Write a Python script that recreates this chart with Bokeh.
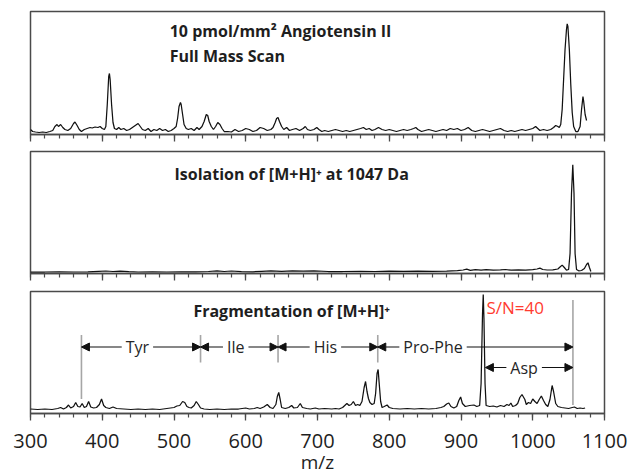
from bokeh.plotting import figure
from bokeh.layouts import column
from bokeh.models import (Range1d, SingleIntervalTicker, Label, Arrow, NormalHead,
                          ColumnDataSource, CustomLabelingPolicy)
from bokeh.embed import file_html
from bokeh.resources import INLINE

# ---------------- data ----------------
# Panel 1: full mass scan (intensity, arbitrary units)
full_mz = [300, 303, 307, 312, 317, 322, 327, 331, 334, 337, 339, 342, 345, 348, 352, 356, 360, 362, 365, 368,
           371, 375, 379, 383, 386, 390, 394, 397, 400, 403, 405, 407, 409, 410, 411, 413, 415, 417, 420, 423,
           426, 430, 434, 438, 442, 446, 450, 453, 456, 460, 464, 468, 472, 476, 480, 484, 488, 492, 496, 500,
           503, 505, 507, 509, 510, 512, 514, 517, 520, 524, 528, 532, 535, 539, 542, 545, 547, 549, 552, 555,
           558, 561, 564, 567, 570, 575, 580, 585, 590, 595, 600, 605, 610, 615, 620, 625, 630, 635, 638, 641,
           643, 645, 647, 650, 653, 657, 661, 665, 670, 675, 680, 683, 686, 690, 695, 699, 702, 706, 710, 715,
           720, 725, 730, 735, 740, 745, 750, 755, 760, 764, 768, 772, 776, 780, 785, 790, 795, 800, 805, 810,
           815, 820, 825, 830, 834, 837, 840, 845, 850, 855, 860, 865, 870, 875, 880, 885, 890, 895, 900, 905,
           910, 915, 920, 925, 930, 935, 940, 945, 950, 955, 960, 965, 970, 975, 980, 985, 990, 995, 1000, 1004,
           1007, 1010, 1015, 1020, 1025, 1029, 1032, 1035, 1037, 1039, 1041, 1043, 1045, 1047, 1048, 1049, 1051,
           1053, 1055, 1057, 1060, 1063, 1066, 1068, 1070, 1071, 1073, 1075]
full_int = [5, 3, 2.5, 2, 2.5, 2, 3, 4, 8, 10, 8, 10, 7, 5, 4, 6, 11, 12.5, 9, 5,
            3, 5, 6, 7, 6.5, 7.5, 7, 8, 6, 5, 8, 30, 58, 61, 55, 30, 12, 6, 5, 7,
            5, 6, 4, 5, 7, 9, 11, 8, 5, 4, 6, 3, 5, 4, 6, 4, 5, 3, 4, 6,
            8, 16, 28, 32, 30, 20, 10, 6, 5, 6, 4, 7, 5, 8, 13, 20, 19, 13, 8, 5,
            8, 12, 10, 6, 3, 3, 2.5, 5, 3, 4, 6, 5, 3, 4, 7, 6, 4, 5, 7, 12,
            16, 17, 13, 8, 5, 7, 4, 5, 6, 4, 6, 8, 5, 4, 5, 7, 5, 3, 4, 3,
            4, 5, 4, 3, 4, 3, 4, 5, 6, 7, 5, 6, 4, 5, 7, 5, 4, 5, 4, 3,
            4, 5, 4, 5, 6, 7, 5, 3, 4, 5, 4, 3, 4, 5, 4, 6, 5, 6, 4, 5,
            7, 4, 3, 4, 5, 4, 3, 4, 5, 6, 4, 3, 4, 3, 4, 5, 4, 5, 6, 8,
            6, 4, 5, 4, 5, 7, 9, 8, 7, 10, 25, 55, 85, 105, 110.7, 108, 85,
            50, 22, 8, 3, 3, 8, 25, 38, 33, 20, 14]

# Panel 2: isolation of [M+H]+
iso_mz = [300, 320, 340, 360, 380, 395, 405, 415, 425, 437, 450, 470, 490, 510, 530, 548, 560, 570, 580, 594,
          610, 622, 635, 650, 665, 680, 695, 715, 735, 760, 780, 800, 820, 840, 860, 880, 895, 903, 908, 913,
          920, 928, 935, 945, 955, 962, 970, 980, 990, 1000, 1006, 1010, 1014, 1020, 1028, 1035, 1038, 1041,
          1044, 1047, 1050, 1052, 1054, 1055.8, 1057.5, 1059, 1061, 1064, 1068, 1072, 1075, 1077, 1079, 1081]
iso_int = [1.5, 1.5, 1.6, 1.5, 1.7, 2.2, 2.5, 2.0, 2.4, 1.8, 1.5, 1.6, 1.5, 1.7, 1.6, 2.0, 2.6, 2.0, 2.5, 1.8,
           1.7, 2.2, 2.6, 2.2, 2.7, 2.3, 2.6, 2.0, 2.0, 2.2, 2.0, 2.3, 2.1, 2.4, 2.2, 2.4, 2.8, 3.5, 4.4, 3.2,
           3.8, 3.4, 3.9, 3.3, 3.6, 4.0, 3.3, 3.6, 3.4, 3.8, 4.5, 5.4, 4.0, 3.5, 3.6, 4.5, 6.5, 8.4,
           6, 3.4, 4, 20, 80, 108.7, 80, 20, 4, 2.7, 3, 5, 9, 10.7, 6, 2]

# Panel 3: fragmentation of [M+H]+
frag_mz = [300, 310, 320, 330, 338, 342, 346, 350, 353, 356, 360, 363, 366, 369, 372, 375, 378, 381, 384, 388,
           392, 396, 399, 402, 405, 410, 415, 420, 430, 440, 450, 460, 470, 480, 490, 495, 500, 504, 508, 512,
           515, 518, 521, 524, 528, 531, 534, 537, 542, 550, 560, 570, 580, 590, 600, 605, 612, 616, 620, 625,
           630, 634, 638, 642, 644, 646, 648, 650, 655, 660, 664, 667, 672, 676, 679, 685, 690, 697, 702, 710,
           720, 725, 730, 735, 738, 741, 744, 747, 750, 753, 756, 759, 762, 765, 767, 769, 771, 773, 776, 779,
           781, 783, 784.5, 786, 788, 790, 793, 797, 800, 805, 815, 825, 835, 845, 855, 865, 872, 876, 880, 883,
           886, 890, 894, 897, 899.5, 902, 906, 912, 918, 922, 926, 928, 930, 931, 932, 933.5, 935, 940, 945, 950,
           955, 960, 964, 967, 969.5, 972, 976, 979, 982, 985, 987, 989, 991, 994, 997, 1000, 1003, 1006, 1009,
           1012, 1015, 1018, 1021, 1024, 1027, 1029, 1032, 1035, 1040, 1045, 1050, 1055, 1058, 1062, 1066,
           1070, 1073]
frag_int = [4.5, 4, 4.5, 4, 5, 6, 4.5, 6, 8.5, 5.5, 7, 11, 7, 6.5, 10, 6, 7, 12, 6.5, 5.5,
            6, 9, 14.5, 8, 6, 5, 6.5, 5, 4.5, 4, 4.5, 4, 4.5, 4, 5, 5.5, 6, 7.5, 8, 12,
            11, 7, 6, 5.5, 8, 12, 9, 5.5, 4.5, 4, 4.5, 4, 4.5, 4.5, 5.5, 4.5, 5, 6, 5, 6.5,
            9, 6, 5, 9, 17, 21, 14, 6, 5, 6, 8, 5.5, 6, 10, 6, 5, 4.5, 5.5, 4.5, 5,
            4.5, 5, 4.5, 6, 8, 10, 8, 9, 12, 8, 9, 8, 12, 26, 32, 22, 15, 11, 9, 10,
            20, 40, 44, 30, 12, 6, 7, 8.5, 6, 5, 4.5, 5, 4.5, 5, 4.5, 5, 6, 7, 9.5, 10.5,
            7, 5.5, 7, 13, 16.5, 10, 7, 8, 8.5, 7, 8, 30, 100, 119, 95, 30, 8, 7, 7.5, 6.5,
            8, 7, 9, 8, 10.5, 7, 8, 10, 16, 19, 16.5, 14, 9, 11, 10, 14.5, 12, 10, 14,
            17.5, 13, 9, 7, 14, 28, 22, 10, 7, 6, 5.5, 5, 6, 6.5, 5, 5.5,
            5, 5.5]

# Residue assignments (m/z boundaries) for the fragment ladder
res_labels = ["Tyr", "Ile", "His", "Pro-Phe", "Asp"]
res_start = [371, 537, 645, 784, 934]
res_end = [537, 645, 784, 1056, 1056]
res_label_mz = [449, 586, 711, 861, 988]
boundary_mz = [371, 537, 645, 784, 1056]

tick_interval = 100
x_min, x_max = 300, 1100

# ---------------- styles ----------------
FONT = "Open Sans"
FRAME_COLOR = "#4a4a4a"
LINE_COLOR = "#111111"
TEXT_COLOR = "#1e1e1e"

hide_labels = CustomLabelingPolicy(code="for (const i of indices) indices.unset(i)")


def make_panel(mz, inten, ymax, frame_h, b_top, b_bottom, show_labels):
    p = figure(frame_width=574, frame_height=frame_h,
               x_range=Range1d(x_min, x_max), y_range=Range1d(0, ymax),
               output_backend="svg", toolbar_location=None, y_axis_location=None,
               min_border_left=30, min_border_right=25,
               min_border_top=b_top, min_border_bottom=b_bottom)
    p.grid.visible = False
    p.background_fill_color = "white"
    p.border_fill_color = "white"
    p.outline_line_color = FRAME_COLOR
    p.outline_line_width = 1.5
    p.line(mz, inten, line_color=LINE_COLOR, line_width=1.25)
    ax = p.xaxis[0]
    ax.ticker = SingleIntervalTicker(interval=tick_interval, num_minor_ticks=5)
    ax.axis_line_color = FRAME_COLOR
    ax.axis_line_width = 1.5
    ax.major_tick_line_color = FRAME_COLOR
    ax.minor_tick_line_color = FRAME_COLOR
    ax.major_tick_line_width = 1.3
    ax.minor_tick_line_width = 1.2
    ax.major_tick_out = 7
    ax.major_tick_in = 0
    ax.minor_tick_out = 4
    ax.minor_tick_in = 0
    if show_labels:
        ax.major_label_text_font = FONT
        ax.major_label_text_font_size = "20px"
        ax.major_label_text_color = TEXT_COLOR
        ax.major_label_standoff = 13
        ax.axis_label = "m/z"
        ax.axis_label_text_font = FONT
        ax.axis_label_text_font_size = "19px"
        ax.axis_label_text_font_style = "normal"
        ax.axis_label_text_color = TEXT_COLOR
        ax.axis_label_standoff = -2
    else:
        ax.major_label_text_font_size = "0px"
        ax.major_label_standoff = 0
        ax.major_label_policy = hide_labels
    return p


def text(p, s, x, y, color=TEXT_COLOR, bold=True, size="16px", align="left"):
    p.add_layout(Label(x=x, y=y, text=s, text_font=FONT, text_font_size=size,
                       text_font_style="bold" if bold else "normal", text_color=color,
                       text_align=align, text_baseline="middle"))


p1 = make_panel(full_mz, full_int, 123, 123, 11, 16, False)
text(p1, "10 pmol/mm² Angiotensin II", 494, 104)
text(p1, "Full Mass Scan", 494, 79)

p2 = make_panel(iso_mz, iso_int, 122, 122, 1, 17, False)
text(p2, "Isolation of [M+H]⁺ at 1047 Da", 664, 100, align="center")

p3 = make_panel(frag_mz, frag_int, 122, 122, 1, 62, True)
text(p3, "Fragmentation of [M+H]⁺", 664, 103, align="center")
text(p3, "S/N=40", 935.5, 106.5, color="#ff3b30", bold=False, size="17px")

# gray boundary lines
seg_bottom = [14.5, 51, 51, 51, 8.5]
seg_top = [78.5, 78.5, 78.5, 78.5, 113.5]
p3.segment(x0=boundary_mz, y0=seg_bottom, x1=boundary_mz, y1=seg_top,
           line_color="#a6a6a6", line_width=1.6)

row_y = [66.5, 66.5, 66.5, 66.5, 46]
arrow_src = ColumnDataSource(dict(x0=res_start, x1=res_end, y=row_y))
p3.add_layout(Arrow(source=arrow_src, x_start="x0", y_start="y", x_end="x1", y_end="y",
                    line_color="#111111", line_width=1.1,
                    start=NormalHead(size=8, fill_color="#111111", line_color="#111111"),
                    end=NormalHead(size=8, fill_color="#111111", line_color="#111111")))
for lab, lx, ly in zip(res_labels, res_label_mz, row_y):
    p3.add_layout(Label(x=lx, y=ly, text=lab, text_font=FONT, text_font_size="16px",
                        text_color="#262626", text_align="center", text_baseline="middle",
                        background_fill_color="white", padding=4))

layout = column(p1, p2, p3, spacing=0)
open("out.html", "w").write(file_html(layout, INLINE))
